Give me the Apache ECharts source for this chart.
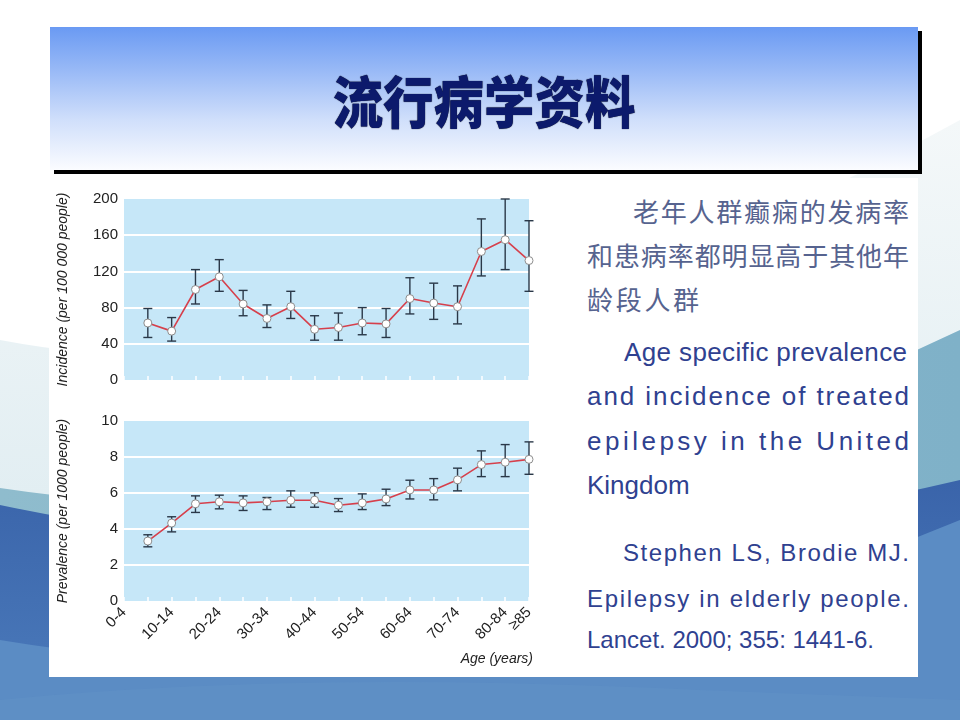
<!DOCTYPE html>
<html>
<head>
<meta charset="utf-8">
<script src="https://cdn.jsdelivr.net/npm/echarts@6/dist/echarts.min.js"></script>
<style>
  html, body { margin:0; padding:0; width:960px; height:720px; overflow:hidden; background:#fff; }
  #bg { position:absolute; left:0; top:0; }
  #panel { position:absolute; left:49px; top:178px; width:869px; height:499px; background:#fff; }
  #header { position:absolute; left:50px; top:27px; width:868px; height:143px;
    background:linear-gradient(to bottom, #6a9af3 0%, #98b9f6 30%, #d0dffb 65%, #fbfcff 100%);
    box-shadow:4px 4px 0 #000; }
  #title { position:absolute; left:0; top:0; width:100%; height:100%; display:flex; align-items:center; justify-content:center;
    font-family:"Noto Sans CJK SC", sans-serif; font-weight:900; font-size:52px; color:#0c1a6c; }
  #title span { display:inline-block; transform:scale(0.97,1.08); text-shadow:0 0 1px #000; }
  #chart { position:absolute; left:0; top:0; width:960px; height:720px; }
  .ln { position:absolute; white-space:nowrap; }
  .cn { font-family:"Noto Sans CJK SC", sans-serif; font-size:26px; line-height:30px; color:#56638f; }
  .en { font-family:"Liberation Sans", Arial, sans-serif; font-size:26px; line-height:30px; color:#2f4190; }
  .ref { font-family:"Liberation Sans", Arial, sans-serif; font-size:24px; line-height:28px; color:#2f4190; }
</style>
</head>
<body>
<svg id="bg" width="960" height="720" xmlns="http://www.w3.org/2000/svg">
  <defs>
    <linearGradient id="gPale" x1="0" y1="0" x2="0" y2="1">
      <stop offset="0" stop-color="#f4f8f9"/>
      <stop offset="1" stop-color="#d7e8ee"/>
    </linearGradient>
    <linearGradient id="gTeal" x1="0" y1="0" x2="1" y2="0">
      <stop offset="0" stop-color="#8fbccd"/>
      <stop offset="1" stop-color="#7fb1c8"/>
    </linearGradient>
    <linearGradient id="gDark" x1="0" y1="0" x2="0" y2="1">
      <stop offset="0" stop-color="#3a64aa"/>
      <stop offset="1" stop-color="#4c7cbc"/>
    </linearGradient>
  </defs>
  <rect x="0" y="0" width="960" height="720" fill="#ffffff"/>
  <path d="M0,340 Q420,420 960,120 L960,720 L0,720 Z" fill="url(#gPale)"/>
  <path d="M0,488 Q480,560 960,330 L960,720 L0,720 Z" fill="url(#gTeal)"/>
  <path d="M0,505 Q450,600 960,480 L960,720 L0,720 Z" fill="url(#gDark)"/>
  <path d="M0,640 Q480,720 960,520 L960,720 L0,720 Z" fill="#5b8cc4"/>
  <path d="M0,700 Q300,670 700,690 L960,700 L960,720 L0,720 Z" fill="#5f90c6" opacity="0.8"/>
</svg>
<div id="panel"></div>
<div id="header"><div id="title"><span>流行病学资料</span></div></div>

<div class="ln cn fit" data-w="276" style="left:633px; top:196px;">老年人群癫痫的发病率</div>
<div class="ln cn fit" data-w="322" style="left:587px; top:240px;">和患病率都明显高于其他年</div>
<div class="ln cn" style="left:587px; top:284px; letter-spacing:2.7px;">龄段人群</div>

<div class="ln en fit" data-w="283" style="left:624px; top:337px;">Age specific prevalence</div>
<div class="ln en fit" data-w="322" style="left:587px; top:381px;">and incidence of treated</div>
<div class="ln en fit" data-w="322" style="left:587px; top:426px;">epilepsy in the United</div>
<div class="ln en" style="left:587px; top:470px;">Kingdom</div>

<div class="ln ref fit" data-w="286" style="left:623px; top:539px;">Stephen LS, Brodie MJ.</div>
<div class="ln ref fit" data-w="322" style="left:587px; top:585px;">Epilepsy in elderly people.</div>
<div class="ln ref" style="left:587px; top:626px;">Lancet. 2000; 355: 1441-6.</div>

<div id="chart"></div>
<script>
document.querySelectorAll('.fit').forEach(function (el) {
  const target = parseFloat(el.getAttribute('data-w'));
  const n = el.textContent.length;
  const natural = el.getBoundingClientRect().width;
  if (n > 1) el.style.letterSpacing = ((target - natural) / (n - 1)) + 'px';
});

const categories = ['0-4','5-9','10-14','15-19','20-24','25-29','30-34','35-39','40-44','45-49','50-54','55-59','60-64','65-69','70-74','75-79','80-84','≥85'];
const incidence      = [null, 63, 54, 100, 114, 84, 68, 81, 56, 58, 63, 62, 90, 85, 81, 142, 155, 132];
const incidenceLow   = [null, 47, 43,  84,  98, 71, 58, 68, 44, 44, 50, 47, 73, 67, 62, 115, 122,  98];
const incidenceHigh  = [null, 79, 69, 122, 133, 99, 83, 98, 71, 74, 80, 79, 113, 107, 104, 178, 200, 176];
const prevalence     = [null, 3.33, 4.33, 5.40, 5.51, 5.45, 5.51, 5.60, 5.60, 5.32, 5.45, 5.67, 6.17, 6.17, 6.73, 7.58, 7.71, 7.87];
const prevalenceLow  = [null, 3.01, 3.84, 4.92, 5.12, 5.03, 5.08, 5.21, 5.21, 4.97, 5.08, 5.30, 5.67, 5.62, 6.12, 6.91, 6.91, 7.04];
const prevalenceHigh = [null, 3.68, 4.68, 5.84, 5.88, 5.84, 5.75, 6.12, 6.01, 5.69, 5.95, 6.21, 6.71, 6.80, 7.38, 8.34, 8.69, 8.84];
const incidenceAxis  = { min: 0, max: 200, interval: 40, name: 'Incidence (per 100 000 people)' };
const prevalenceAxis = { min: 0, max: 10, interval: 2, name: 'Prevalence (per 1000 people)' };
const xAxisName = 'Age (years)';

function errData(lo, hi) {
  const out = [];
  for (let i = 0; i < categories.length; i++) {
    if (lo[i] != null && hi[i] != null) out.push([i, lo[i], hi[i]]);
  }
  return out;
}
const barStyle = { stroke: '#2a3848', lineWidth: 1.4 };
function renderErr(params, api) {
  const x = api.value(0);
  const lo = api.coord([x, api.value(1)]);
  const hi = api.coord([x, api.value(2)]);
  const w = 4.5;
  return { type: 'group', children: [
    { type: 'line', shape: { x1: lo[0], y1: lo[1], x2: hi[0], y2: hi[1] }, style: barStyle },
    { type: 'line', shape: { x1: lo[0] - w, y1: lo[1], x2: lo[0] + w, y2: lo[1] }, style: barStyle },
    { type: 'line', shape: { x1: hi[0] - w, y1: hi[1], x2: hi[0] + w, y2: hi[1] }, style: barStyle }
  ]};
}
const sans = '"Liberation Sans", Arial, sans-serif';
function yAx(gi, ax) {
  return {
    type: 'value', gridIndex: gi, min: ax.min, max: ax.max, interval: ax.interval,
    name: ax.name, nameLocation: 'middle', nameRotate: 90, nameGap: 54,
    nameTextStyle: { fontFamily: sans, fontStyle: 'italic', fontSize: 14, color: '#222' },
    axisLine: { show: false }, axisTick: { show: false },
    axisLabel: { fontFamily: sans, fontSize: 15, color: '#222', margin: 6 },
    splitLine: { show: true, lineStyle: { color: ['rgba(0,0,0,0)', '#ffffff', '#ffffff', '#ffffff', '#ffffff', 'rgba(0,0,0,0)'], width: 2 } }
  };
}
function xAx(gi, showLabels) {
  return {
    type: 'category', gridIndex: gi, data: categories, boundaryGap: false,
    axisLine: { show: false },
    axisTick: { show: true, inside: true, length: 4, interval: 0, lineStyle: { color: '#ffffff', width: 1.5 } },
    axisLabel: {
      show: showLabels, rotate: 45, fontFamily: sans, fontSize: 15, color: '#222', margin: 9,
      interval: function (i) { return i % 2 === 0 || i === categories.length - 1; }
    },
    splitLine: { show: false }
  };
}
const lineSeries = (xi, yi, data) => ({
  type: 'line', xAxisIndex: xi, yAxisIndex: yi, data: data, z: 5,
  lineStyle: { color: '#d6404c', width: 1.6 },
  symbol: 'circle', symbolSize: 8,
  itemStyle: { color: '#ffffff', borderColor: '#8c8c8c', borderWidth: 1 },
  emphasis: { disabled: true }
});
const errSeries = (xi, yi, lo, hi) => ({
  type: 'custom', xAxisIndex: xi, yAxisIndex: yi, data: errData(lo, hi),
  renderItem: renderErr, encode: { x: 0, y: [1, 2] }, z: 3, clip: false
});

const chart = echarts.init(document.getElementById('chart'), null, { renderer: 'canvas' });
chart.setOption({
  backgroundColor: 'transparent',
  animation: false,
  grid: [
    { left: 124, top: 199, width: 405, height: 181, show: true, backgroundColor: '#c6e7f8', borderWidth: 0 },
    { left: 124, top: 421, width: 405, height: 180, show: true, backgroundColor: '#c6e7f8', borderWidth: 0 }
  ],
  xAxis: [xAx(0, false), xAx(1, true)],
  yAxis: [yAx(0, incidenceAxis), yAx(1, prevalenceAxis)],
  series: [
    errSeries(0, 0, incidenceLow, incidenceHigh),
    lineSeries(0, 0, incidence),
    errSeries(1, 1, prevalenceLow, prevalenceHigh),
    lineSeries(1, 1, prevalence)
  ],
  graphic: [
    { type: 'text', right: 960 - 533, top: 652,
      style: { text: xAxisName, fontFamily: sans, fontStyle: 'italic', fontSize: 14, fill: '#222' } }
  ]
});
</script>
</body>
</html>
